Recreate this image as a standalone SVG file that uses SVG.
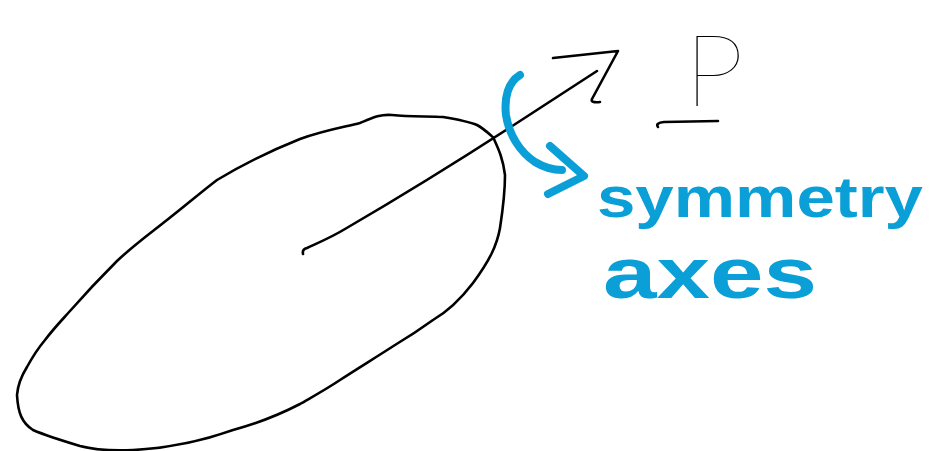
<svg xmlns="http://www.w3.org/2000/svg" width="930" height="451" viewBox="0 0 930 451">
<style>
.ink{fill:none;stroke:#000;stroke-width:2.6;stroke-linecap:round;stroke-linejoin:round}
.blue{fill:none;stroke:#0A9FD6;stroke-width:8;stroke-linecap:round;stroke-linejoin:round}
.bt{fill:#0A9FD6;font-family:"Liberation Sans",Arial,sans-serif;font-weight:bold}
.pt{fill:#000;font-family:"Lato","Liberation Sans",sans-serif;font-weight:100}
</style>
<rect width="930" height="451" fill="#fff"/>
<g id="body">
<path class="ink" d="M360,123 C372,118 380,114 392,115 C410,117 430,116 443,117 C455,119 470,122 477,125 C486,130 492,137 493,137 C498,148 503,158 505,175 C505,195 502,215 500,228 C497,245 490,260 473,283 C460,300 445,313 433,320 C415,333 400,342 395,345 C375,358 355,370 340,380 C325,390 312,397 300,404 C275,417 255,424 233,430 C205,440 170,448 133,450 C110,451 95,450 80,446 C60,440 40,433 33,430 C22,423 18,413 17,395 C18,383 22,375 27,367 C33,356 40,346 45,340 C55,327 62,320 70,311 C85,294 100,278 117,261 C135,244 152,232 167,220 C185,206 200,193 217,180 C245,163 270,151 300,139 C325,130 345,127 360,123 Z"/>
</g>
<g id="label-P">
<text class="pt" x="684" y="106" font-size="100" textLength="60" lengthAdjust="spacingAndGlyphs">P</text>
<path class="ink" d="M658,127 Q655,123 664,122 L718,121"/>
</g>
<g id="label-symmetry-axes">
<text class="bt" x="597" y="217" font-size="58" textLength="326" lengthAdjust="spacingAndGlyphs">symmetry</text>
<text class="bt" x="603" y="298" font-size="72" textLength="214" lengthAdjust="spacingAndGlyphs">axes</text>
</g>
<g id="connectors">
<path class="ink" d="M303,254 Q302,249 307,248 C320,242 332,237 345,229 C400,197 460,160 520,121 L597,71"/>
<path class="ink" d="M553,58 L618,51 L592,99 Q590,103 600,102"/>
<path class="blue" d="M520,75 C508,82 504,98 506,115 C509,135 520,152 535,162 C545,168 555,170 562,170"/>
<path class="blue" d="M550,146 L584,176 L548,194"/>
</g>
</svg>
